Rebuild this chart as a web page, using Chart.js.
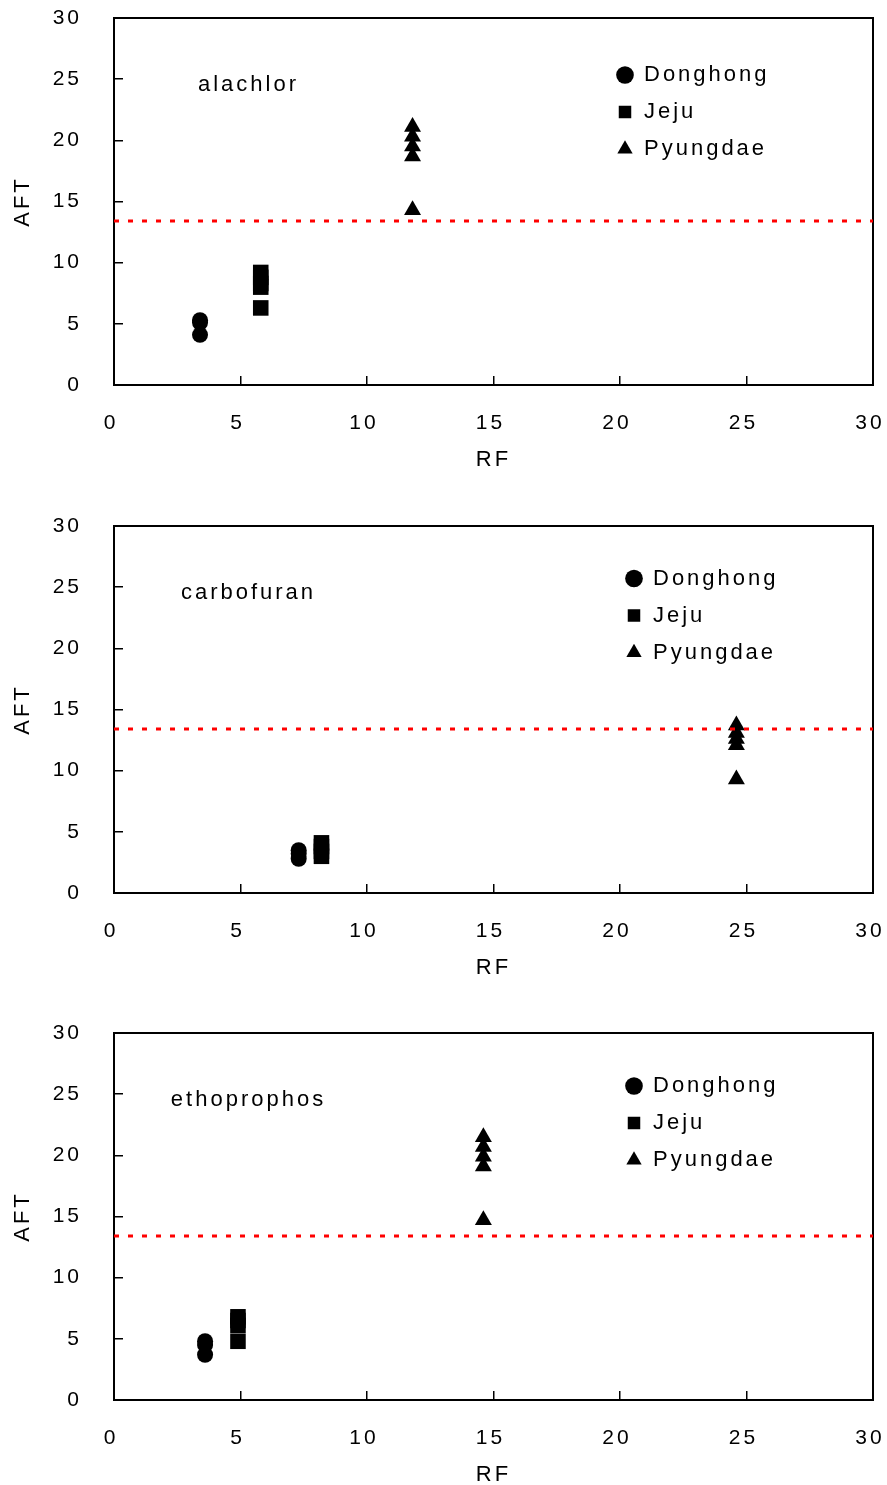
<!DOCTYPE html>
<html>
<head>
<meta charset="utf-8">
<script src="https://cdn.jsdelivr.net/npm/chart.js@4.4.1/dist/chart.umd.min.js"></script>
<style>
  html, body { margin: 0; padding: 0; background: #fff; }
  #wrap { position: relative; width: 887px; height: 1485px; }
  canvas { position: absolute; left: 0; }
</style>
</head>
<body>
<div id="wrap">
  <canvas id="c1" width="887" height="480" style="top:0px"></canvas>
  <canvas id="c2" width="887" height="480" style="top:508px"></canvas>
  <canvas id="c3" width="887" height="480" style="top:1015px"></canvas>
</div>
<script>
// Axis ticks (RF on x, AFT on y) and the AFT threshold
const xTicks = [0, 5, 10, 15, 20, 25, 30];
const yTicks = [0, 5, 10, 15, 20, 25, 30];
const aftThreshold = 13.4;
const sites = ['Donghong', 'Jeju', 'Pyungdae'];

// alachlor: RF per site, AFT replicates per site
const alachlorRF = [3.4, 5.8, 11.8];
const alachlorDonghong = [5.3, 5.1, 4.1];
const alachlorJeju = [9.2, 8.8, 8.3, 8.0, 6.3];
const alachlorPyungdae = [21.1, 20.3, 19.5, 18.7, 14.3];

// carbofuran
const carbofuranRF = [7.3, 8.2, 24.6];
const carbofuranDonghong = [3.5, 3.2, 2.8];
const carbofuranJeju = [4.1, 3.8, 3.4, 3.0];
const carbofuranPyungdae = [13.7, 13.1, 12.6, 12.1, 9.3];

// ethoprophos
const ethoprophosRF = [3.6, 4.9, 14.6];
const ethoprophosDonghong = [4.8, 4.5, 3.7];
const ethoprophosJeju = [6.8, 6.5, 6.1, 4.8];
const ethoprophosPyungdae = [21.5, 20.7, 19.9, 19.1, 14.7];

const FONT = '"Liberation Sans", Arial, Helvetica, sans-serif';

// wide letter spacing for all text on the canvas
const spacingPlugin = {
  id: 'spacing',
  beforeDraw(chart) { chart.ctx.letterSpacing = '3px'; }
};

// closed frame around the plot area
const framePlugin = {
  id: 'frame',
  beforeDatasetsDraw(chart) {
    const { ctx, chartArea: a } = chart;
    ctx.save();
    ctx.strokeStyle = '#000';
    ctx.lineWidth = 2;
    ctx.strokeRect(a.left, a.top, a.right - a.left, a.bottom - a.top);
    ctx.restore();
  }
};

// compound name inside the plot area
const namePlugin = {
  id: 'panelName',
  afterDraw(chart, args, opts) {
    const { ctx, chartArea: a } = chart;
    ctx.save();
    ctx.font = '22px ' + FONT;
    ctx.letterSpacing = '3px';
    ctx.fillStyle = '#000';
    ctx.textAlign = 'center';
    ctx.textBaseline = 'middle';
    ctx.fillText(opts.text, a.left + opts.dx, a.top + opts.dy);
    ctx.restore();
  }
};

// move the in-plot legend to its corner position
const legendPlacePlugin = {
  id: 'legendPlace',
  afterLayout(chart, args, opts) {
    const lg = chart.legend;
    if (!lg) return;
    lg.left = opts.x; lg.top = opts.y;
    lg.width = 270; lg.height = 200;
    lg.right = opts.x + 270; lg.bottom = opts.y + 200;
  }
};

function buildPanel(id, name, rf, dong, jeju, pyung, legendX, legendY) {
  const pts = (x, ys) => ys.map(y => ({ x, y }));
  new Chart(document.getElementById(id), {
    type: 'scatter',
    data: {
      datasets: [
        {
          type: 'line', label: 'threshold',
          data: [{ x: xTicks[0], y: aftThreshold }, { x: xTicks[xTicks.length - 1], y: aftThreshold }],
          borderColor: '#ff0000', borderWidth: 3, borderDash: [5, 9],
          pointRadius: 0, fill: false, order: -1
        },
        { label: sites[0], data: pts(rf[0], dong), pointStyle: 'circle', pointRadius: 8,
          backgroundColor: '#000', borderColor: '#000', borderWidth: 0 },
        { label: sites[1], data: pts(rf[1], jeju), pointStyle: 'rect', pointRadius: 11,
          backgroundColor: '#000', borderColor: '#000', borderWidth: 0 },
        { label: sites[2], data: pts(rf[2], pyung), pointStyle: 'triangle', pointRadius: 9.8,
          backgroundColor: '#000', borderColor: '#000', borderWidth: 0 }
      ]
    },
    options: {
      responsive: false,
      devicePixelRatio: 1,
      animation: false,
      layout: { padding: { left: 0, right: 14, top: 18, bottom: 0 } },
      scales: {
        x: {
          type: 'linear', position: 'bottom', min: 0, max: 30,
          afterBuildTicks: s => { s.ticks = xTicks.map(v => ({ value: v })); },
          afterFit: s => { s.height = 95; s.paddingLeft = 0; s.paddingRight = 0; },
          ticks: { color: '#000', font: { size: 21, family: FONT }, padding: 35, maxRotation: 0, labelOffset: -3 },
          grid: { drawOnChartArea: false, drawTicks: true, tickLength: -9, color: '#000', lineWidth: 1.5 },
          border: { color: '#000', width: 2 },
          title: { display: true, text: 'RF', color: '#000', font: { size: 22, family: FONT },
                   padding: { top: 0, bottom: 6.5 } }
        },
        y: {
          type: 'linear', position: 'left', min: 0, max: 30,
          afterBuildTicks: s => { s.ticks = yTicks.map(v => ({ value: v })); },
          afterFit: s => { s.width = 114; s.paddingTop = 0; s.paddingBottom = 0; },
          ticks: { color: '#000', font: { size: 21, family: FONT }, padding: 41 },
          grid: { drawOnChartArea: false, drawTicks: true, tickLength: -9, color: '#000', lineWidth: 1.5 },
          border: { color: '#000', width: 2 },
          title: { display: true, text: 'AFT', color: '#000', font: { size: 22, family: FONT },
                   padding: { top: 10, bottom: 0 } }
        }
      },
      plugins: {
        tooltip: { enabled: false },
        legend: {
          display: true,
          position: 'chartArea',
          align: 'start',
          labels: {
            usePointStyle: true,
            boxWidth: 16,
            boxHeight: 12.5,
            padding: 15,
            color: '#000',
            textAlign: 'left',
            font: { size: 22, family: FONT },
            filter: item => sites.includes(item.text)
          }
        },
        legendPlace: { x: legendX, y: legendY },
        panelName: { text: name, dx: 134.5, dy: 67 }
      }
    },
    plugins: [spacingPlugin, framePlugin, namePlugin, legendPlacePlugin]
  });
}

buildPanel('c1', 'alachlor', alachlorRF, alachlorDonghong, alachlorJeju, alachlorPyungdae, 602, 49);
buildPanel('c2', 'carbofuran', carbofuranRF, carbofuranDonghong, carbofuranJeju, carbofuranPyungdae, 611, 44.5);
buildPanel('c3', 'ethoprophos', ethoprophosRF, ethoprophosDonghong, ethoprophosJeju, ethoprophosPyungdae, 611, 45);
</script>
</body>
</html>
